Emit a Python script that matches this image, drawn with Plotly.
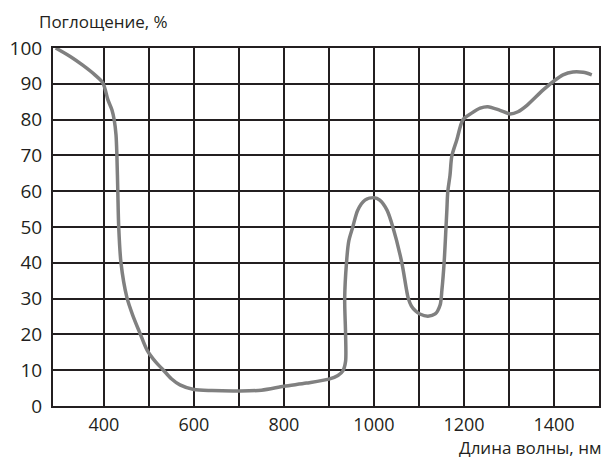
import plotly.graph_objects as go

wavelength = [293, 327, 353, 380, 398, 409, 418, 423, 427, 429, 431, 433, 438,
              451, 464, 480, 496, 515, 531, 550, 569, 600, 640, 700, 750,
              800, 850, 900, 920, 931, 937, 937, 935, 939, 944, 953, 964, 980,
              1000, 1013, 1029, 1042, 1062, 1076, 1083, 1092, 1102, 1120,
              1136, 1147, 1151, 1156, 1160, 1162, 1164, 1169, 1173, 1184, 1198,
              1217, 1236, 1253, 1280, 1302, 1320, 1340, 1376, 1402, 1420, 1442,
              1465, 1484]
absorption = [100, 97.5, 95.2, 92.5, 90.2, 85.5, 82.7, 79.9, 75.7, 69.8, 59.8, 50, 40,
              30.4, 25.4, 20.4, 15.6, 12.3, 10.2, 7.6, 5.9, 4.6, 4.3, 4.2, 4.4,
              5.5, 6.4, 7.5, 8.5, 9.8, 12.5, 20, 30, 40, 46, 50, 54.7, 57.5,
              58.2, 57.5, 54.7, 50, 40, 30.2, 28, 26.6, 25.7, 25.1,
              25.7, 28.2, 32.4, 40.2, 49.7, 54.7, 59.8, 64.5, 69.8, 74.3, 80,
              81.8, 83.2, 83.6, 82.6, 81.6, 82.2, 84, 88.3, 91, 92.5, 93.3,
              93.2, 92.5]

x_major = [400, 600, 800, 1000, 1200, 1400]
x_minor = [500, 700, 900, 1100, 1300]
y_ticks = list(range(0, 101, 10))

INK = "#231f20"
FONT = "Open Sans"

fig = go.Figure()
fig.add_trace(go.Scatter(
    x=wavelength, y=absorption, mode="lines",
    line=dict(color="#808080", width=3.5, shape="spline", smoothing=0.8),
    hoverinfo="skip", showlegend=False,
))

fig.update_layout(
    width=601, height=453,
    margin=dict(l=45, r=10, t=40, b=55),
    paper_bgcolor="white", plot_bgcolor="white",
    font=dict(family=FONT, size=18, color=INK),
    xaxis=dict(
        range=[287, 1500], tickmode="array", tickvals=x_major,
        showgrid=True, gridcolor=INK, gridwidth=2,
        minor=dict(tickmode="array", tickvals=x_minor, showgrid=True,
                   gridcolor=INK, gridwidth=2),
        showline=True, linecolor=INK, linewidth=2, mirror=True,
        ticks="", ticklabelstandoff=1, zeroline=False, automargin=False,
        tickfont=dict(family=FONT, size=18, color=INK),
    ),
    yaxis=dict(
        range=[0, 100], tickmode="array", tickvals=y_ticks,
        showgrid=True, gridcolor=INK, gridwidth=2,
        showline=True, linecolor=INK, linewidth=2, mirror=True,
        ticks="", ticklabelstandoff=5, zeroline=False, automargin=False,
        tickfont=dict(family=FONT, size=19, color=INK),
    ),
    annotations=[
        dict(text="Поглощение, %", xref="paper", yref="paper",
             x=-0.03, y=1.073, xanchor="left", yanchor="middle",
             showarrow=False, font=dict(family=FONT, size=17, color=INK)),
        dict(text="Длина волны, нм", xref="paper", yref="paper",
             x=1.008, y=-0.117, xanchor="right", yanchor="middle",
             showarrow=False, font=dict(family=FONT, size=17, color=INK)),
    ],
)

fig.write_html("out.html")
